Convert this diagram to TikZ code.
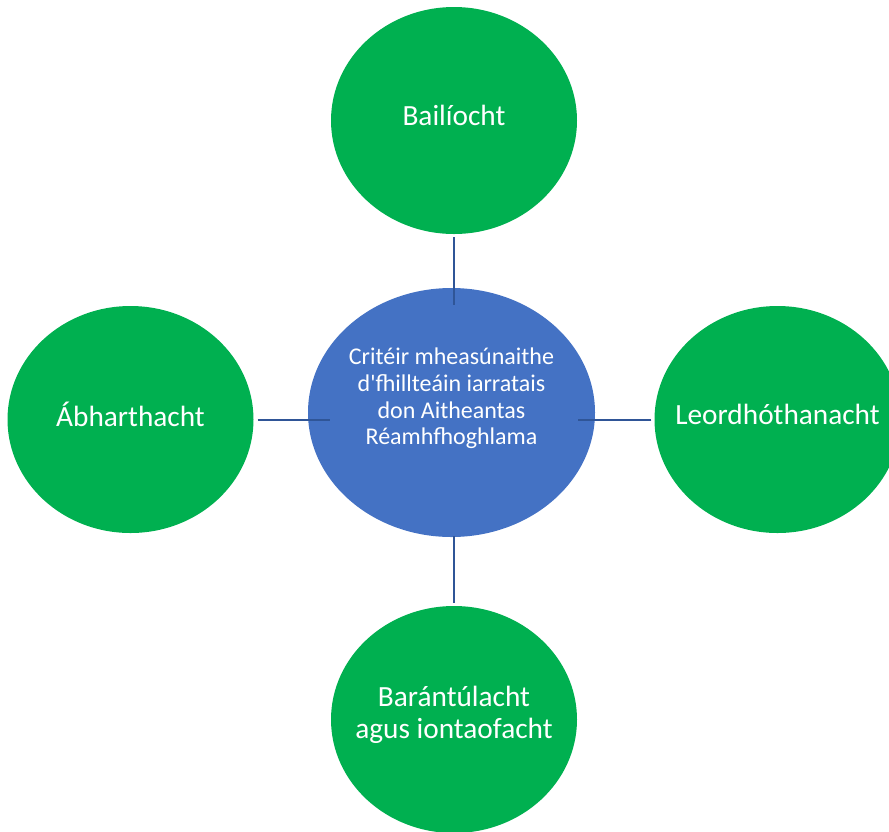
\documentclass[tikz,border=0pt]{standalone}
\usepackage{fontspec}
\setmainfont{Carlito}
\usetikzlibrary{shapes.geometric}
\definecolor{leafgreen}{HTML}{00B050}
\definecolor{hubblue}{HTML}{4472C4}
\definecolor{linkblue}{HTML}{2F5597}
\tikzset{
	leaf/.style={ellipse, fill=leafgreen, minimum width=246pt, minimum height=227pt, inner sep=0pt},
	hub/.style={ellipse, fill=hubblue, minimum width=287pt, minimum height=249pt, inner sep=0pt},
	leaftext/.style={text=white, align=center, font=\fontsize{29.3}{32}\selectfont, yshift=5pt},
	hubtext/.style={text=white, align=center, font=\fontsize{24}{26.7}\selectfont, yshift=14pt},
	link/.style={draw=linkblue, line width=2pt}
}

\begin{document}
\begin{tikzpicture}[x=1pt, y=-1pt]
		%%%%% START %%%%%
		\useasboundingbox (0, 0) rectangle (889, 831);
		
		\node[hub, label={[hubtext, name=critlbl]center:Critéir mheasúnaithe\\d\textquotesingle fhillteáin iarratais\\don Aitheantas\\Réamhfhoghlama}] (crit) at (451.5, 412.5) {};
		
		\node[leaf, label={[leaftext, name=baillbl]center:Bailíocht}] (bail) at (454, 120.5) {};
		\node[leaf, label={[leaftext, name=abharlbl]center:Ábharthacht}] (abhar) at (130.5, 419.5) {};
		\node[leaf, label={[leaftext, name=leordlbl]center:Leordhóthanacht}] (leord) at (777.5, 419.5) {};
		\node[leaf, label={[leaftext, name=barantlbl]center:Barántúlacht\\agus iontaofacht}] (barant) at (454, 719.5) {};
		
		\draw[link, shorten <=3pt, shorten >=-17pt] (bail.south) -- (bail.south |- crit.north);
		\draw[link, shorten <=4pt, shorten >=-22pt] (abhar.east) -- (abhar.east -| crit.west);
		\draw[link, shorten <=3pt, shorten >=-17pt] (leord.west) -- (leord.west -| crit.east);
		\draw[link, shorten <=3pt, shorten >=-1pt] (barant.north) -- (barant.north |- crit.south);
		
		%%%%% END %%%%%
\end{tikzpicture}
\end{document}
